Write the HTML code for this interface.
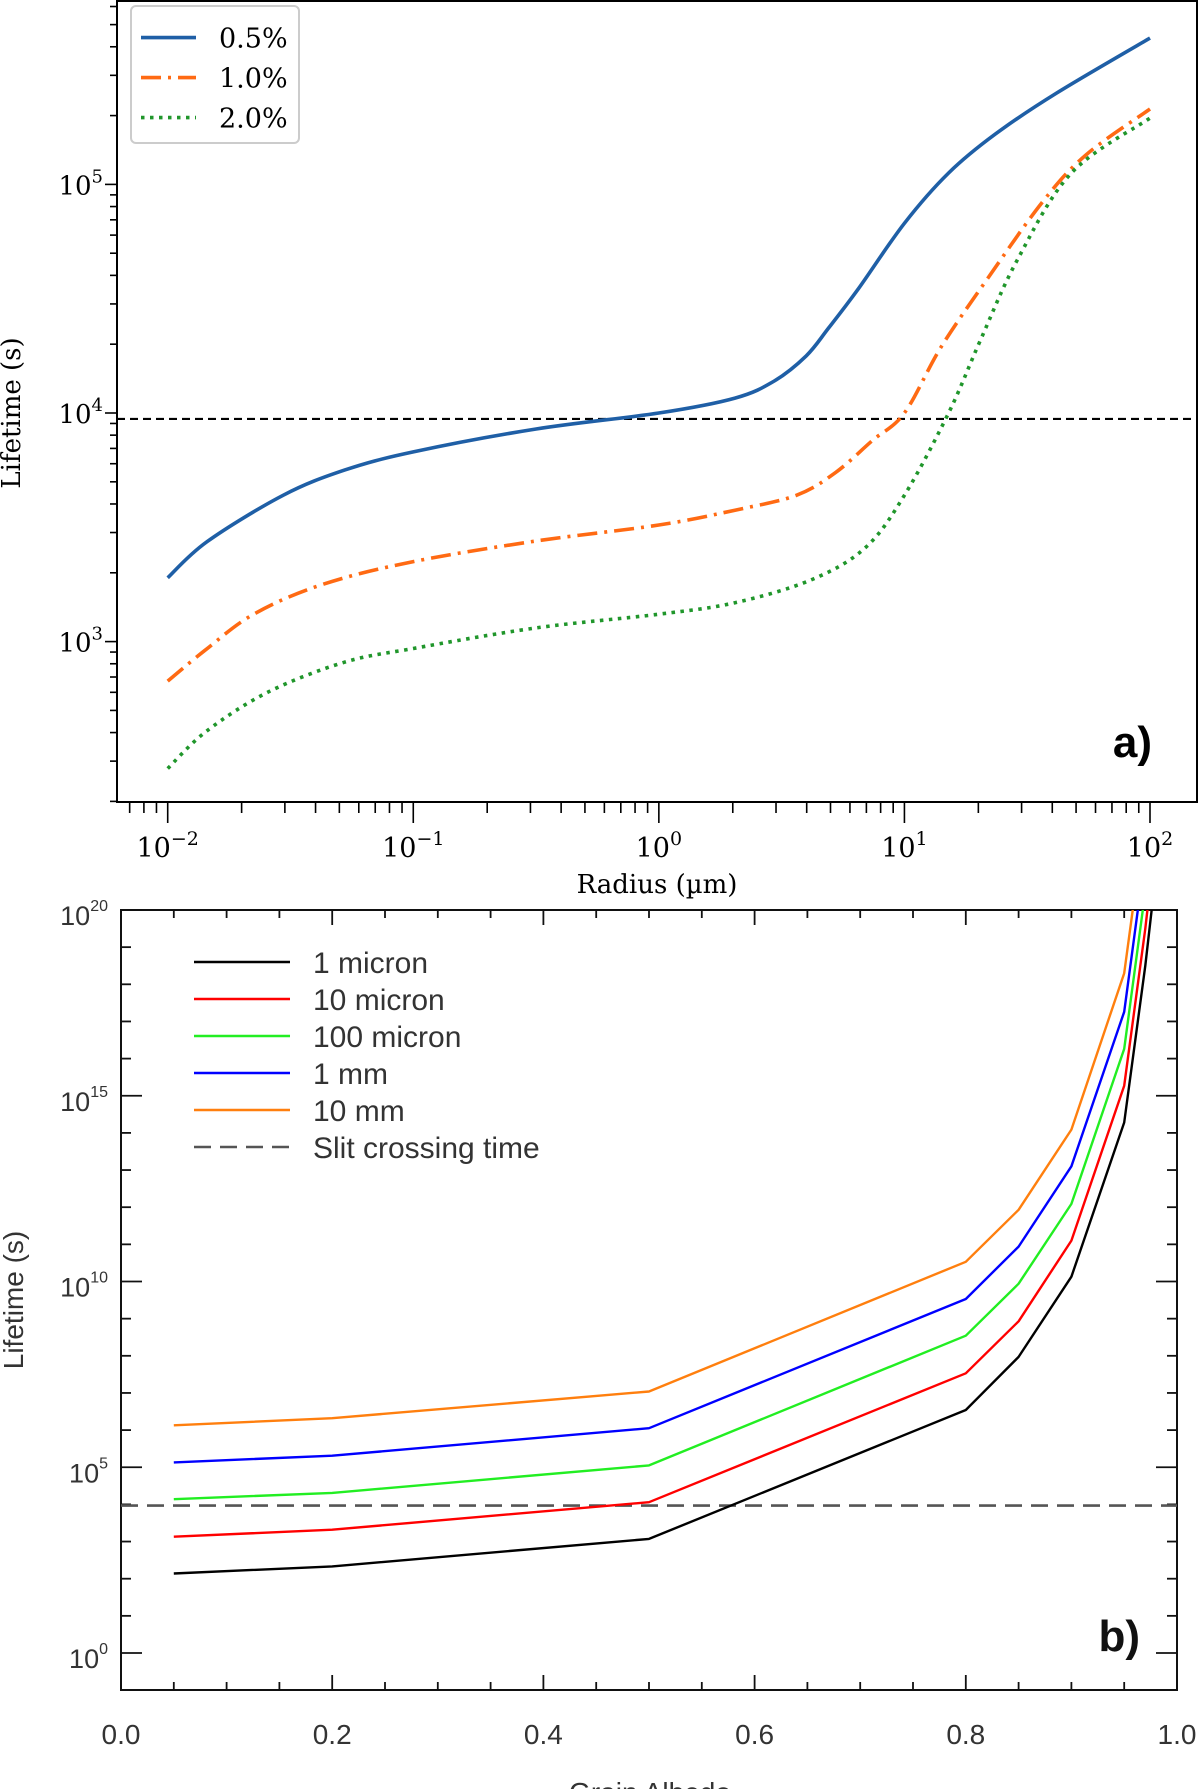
<!DOCTYPE html>
<html><head><meta charset="utf-8">
<style>
html,body{margin:0;padding:0;background:#fff;}
svg{display:block;}
</style></head>
<body>
<svg id="fig" width="1200" height="1789" viewBox="0 0 1200 1789" xmlns="http://www.w3.org/2000/svg">
  <defs>
    <clipPath id="clipA"><rect x="117" y="1" width="1080" height="801"/></clipPath>
    <clipPath id="clipB"><rect x="121" y="910" width="1056" height="780"/></clipPath>
  </defs>
  <g id="panelA"></g>
  <g id="panelB"></g>
</svg>
<script>
// ---------- Panel a data (log10 radius, log10 lifetime) ----------
const aBlueX = [-2, -1.84, -1.53, -1.28, -1.0, -0.5, 0, 0.31, 0.47, 0.6, 0.69, 0.81, 1.0, 1.18, 1.37, 1.62, 2];
const aBlueY = [3.279, 3.437, 3.64, 3.75, 3.83, 3.93, 4.0, 4.065, 4.14, 4.25, 4.37, 4.54, 4.83, 5.05, 5.22, 5.40, 5.64];
const aOrangeX = [-2, -1.85, -1.65, -1.37, -1.0, -0.5, 0, 0.31, 0.56, 0.72, 0.87, 1.0, 1.15, 1.34, 1.56, 1.74, 2];
const aOrangeY = [2.827, 2.96, 3.12, 3.25, 3.35, 3.44, 3.51, 3.575, 3.64, 3.74, 3.88, 4.0, 4.29, 4.59, 4.92, 5.13, 5.33];
const aGreenX = [-2, -1.84, -1.59, -1.28, -1.0, -0.5, 0, 0.31, 0.62, 0.84, 1.0, 1.18, 1.31, 1.46, 1.68, 2];
const aGreenY = [2.445, 2.61, 2.78, 2.91, 2.97, 3.06, 3.12, 3.17, 3.27, 3.41, 3.64, 4.0, 4.32, 4.67, 5.05, 5.29];
const aThreshold = 3.974;
const aXTickExps = [-2, -1, 0, 1, 2];
const aYTickExps = [3, 4, 5];
const aLegendLabels = ["0.5%", "1.0%", "2.0%"];

// ---------- Panel b data (albedo, log10 lifetime) ----------
const bAlbedo = [0.05, 0.2, 0.5, 0.8, 0.85, 0.9, 0.95, 0.97, 0.98];
const b1micron = [2.14, 2.33, 3.07, 6.54, 7.97, 10.13, 14.28, 18.5, 21.0];
const b10micron = [3.13, 3.32, 4.06, 7.53, 8.93, 11.1, 15.27, 19.5, 22.0];
const b100micron = [4.14, 4.31, 5.05, 8.54, 9.94, 12.09, 16.26, 20.5, 23.0];
const b1mm = [5.13, 5.31, 6.05, 9.53, 10.94, 13.1, 17.26, 21.5, 24.0];
const b10mm = [6.13, 6.32, 7.04, 10.53, 11.93, 14.09, 18.3, 22.5, 25.0];
const bSlit = 3.97;
const bXTicks = [0.0, 0.2, 0.4, 0.6, 0.8, 1.0];
const bXTickLabels = ["0.0", "0.2", "0.4", "0.6", "0.8", "1.0"];
const bYTickExps = [0, 5, 10, 15, 20];
const bLegendLabels = ["1 micron", "10 micron", "100 micron", "1 mm", "10 mm", "Slit crossing time"];

const NS = "http://www.w3.org/2000/svg";
function mk(tag, attrs, parent) {
  const e = document.createElementNS(NS, tag);
  for (const k in attrs) e.setAttribute(k, attrs[k]);
  if (parent) parent.appendChild(e);
  return e;
}
function pathD(xs, ys, fx, fy) {
  return xs.map((x, i) => (i ? 'L' : 'M') + fx(x).toFixed(1) + ',' + fy(ys[i]).toFixed(1)).join(' ');
}
function smoothD(xs, ys, fx, fy) {
  const P = xs.map((x, i) => [fx(x), fy(ys[i])]);
  let d = 'M' + P[0][0].toFixed(1) + ',' + P[0][1].toFixed(1);
  for (let i = 0; i < P.length - 1; i++) {
    const p0 = P[Math.max(0, i - 1)], p1 = P[i], p2 = P[i + 1], p3 = P[Math.min(P.length - 1, i + 2)];
    const c1 = [p1[0] + (p2[0] - p0[0]) / 6, p1[1] + (p2[1] - p0[1]) / 6];
    const c2 = [p2[0] - (p3[0] - p1[0]) / 6, p2[1] - (p3[1] - p1[1]) / 6];
    d += ' C' + c1[0].toFixed(1) + ',' + c1[1].toFixed(1) + ' ' + c2[0].toFixed(1) + ',' + c2[1].toFixed(1) + ' ' + p2[0].toFixed(1) + ',' + p2[1].toFixed(1);
  }
  return d;
}

// ===== Panel a =====
const A = document.getElementById('panelA');
const aL = 117, aR = 1197, aT = 1, aB = 802;
const ax = v => 167.7 + (v + 2) * (1150 - 167.7) / 4;
const ay = v => 413 - (v - 4) * 228.6;
const serif = '"DejaVu Serif","Liberation Serif",serif';

let fa = mk('rect', {x: aL, y: aT, width: aR - aL, height: aB - aT, fill: 'none', stroke: '#000', 'stroke-width': 2}, A);



for (let d = -3; d <= 2; d++) {
  for (let m = 1; m <= 9; m++) {
    const v = d + Math.log10(m);
    const px = ax(v);
    if (px < aL || px > aR) continue;
    const len = m === 1 ? 21 : 11;
    const t = mk('line', {x1: px, y1: aB, x2: px, y2: aB + len, stroke: '#000', 'stroke-width': 1.6}, A);
    
    
  }
}
aXTickExps.forEach(e => {
  const t = mk('text', {x: ax(e), y: 857, 'font-family': serif, 'font-size': 27, 'text-anchor': 'middle', fill: '#000'}, A);
  
  
  t.innerHTML = '10<tspan dy="-12" font-size="19">' + (e < 0 ? '\u2212' + (-e) : e) + '</tspan>';
});
for (let d = 2; d <= 5; d++) {
  for (let m = 1; m <= 9; m++) {
    const v = d + Math.log10(m);
    const py = ay(v);
    if (py < aT || py > aB) continue;
    const len = m === 1 ? 12 : 7;
    const t = mk('line', {x1: aL - len, y1: py, x2: aL, y2: py, stroke: '#000', 'stroke-width': 1.6}, A);
    
    
  }
}
aYTickExps.forEach(e => {
  const t = mk('text', {x: 103, y: ay(e) + 10, 'font-family': serif, 'font-size': 26, 'text-anchor': 'end', fill: '#000'}, A);
  
  
  t.innerHTML = '10<tspan dy="-12" font-size="18">' + e + '</tspan>';
});
let xta = mk('text', {x: 657, y: 893, 'font-family': serif, 'font-size': 26, 'text-anchor': 'middle', fill: '#000'}, A);


xta.textContent = 'Radius (\u00b5m)';
let yta = mk('text', {x: 0, y: 0, transform: 'translate(20,413) rotate(-90)', 'font-family': serif, 'font-size': 26, 'text-anchor': 'middle', fill: '#000'}, A);


yta.textContent = 'Lifetime (s)';

let tha = mk('line', {x1: aL, y1: ay(aThreshold), x2: aR, y2: ay(aThreshold), stroke: '#000', 'stroke-width': 2.2, 'stroke-dasharray': '8,5'}, A);



const aSeries = [
  {xs: aBlueX, ys: aBlueY, c: '#1f5fa6', dash: '', name: 'series-0-5-percent'},
  {xs: aOrangeX, ys: aOrangeY, c: '#ff6a13', dash: '20,7,3,7', name: 'series-1-0-percent'},
  {xs: aGreenX, ys: aGreenY, c: '#20962b', dash: '3.5,5.5', name: 'series-2-0-percent'}
];
const gA = mk('g', {'clip-path': 'url(#clipA)'}, A);
aSeries.forEach(s => {
  const p = mk('path', {d: smoothD(s.xs, s.ys, ax, ay), fill: 'none', stroke: s.c, 'stroke-width': 3.6, 'stroke-dasharray': s.dash, 'stroke-linejoin': 'round'}, gA);
  
  
});
let lga = mk('rect', {x: 131, y: 6, width: 168, height: 137, rx: 5, fill: '#fff', stroke: '#ccc', 'stroke-width': 2}, A);


aSeries.forEach((s, i) => {
  const y = 37.6 + i * 40;
  const l = mk('line', {x1: 141, y1: y, x2: 196, y2: y, stroke: s.c, 'stroke-width': 3.6, 'stroke-dasharray': s.dash}, A);
  
  
  const t = mk('text', {x: 219, y: y + 10, 'font-family': serif, 'font-size': 27, fill: '#000'}, A);
  
  
  t.textContent = aLegendLabels[i];
});
let pla = mk('text', {x: 1152, y: 757, 'font-family': '"Liberation Sans",sans-serif', 'font-size': 44, 'font-weight': 'bold', 'text-anchor': 'end', fill: '#000'}, A);


pla.textContent = 'a)';

// ===== Panel b =====
const B = document.getElementById('panelB');
const bL = 121, bR = 1177, bT = 910, bBt = 1690;
const bx = v => bL + v * (bR - bL);
const by = v => 1653 - v * (1653 - 910) / 20;
const sans = '"Liberation Sans","DejaVu Sans",sans-serif';

let fb = mk('rect', {x: bL, y: bT, width: bR - bL, height: bBt - bT, fill: 'none', stroke: '#111', 'stroke-width': 2}, B);


for (let i = 0; i <= 20; i++) {
  const v = i * 0.05;
  const px = bx(v);
  const len = i % 4 === 0 ? 15 : 8;
  [[bBt, -1], [bT, 1]].forEach(([y0, dir]) => {
    const t = mk('line', {x1: px, y1: y0, x2: px, y2: y0 + dir * len, stroke: '#111', 'stroke-width': 1.8}, B);
    
    
  });
}
bXTicks.forEach((v, i) => {
  const t = mk('text', {x: bx(v), y: 1744, 'font-family': sans, 'font-size': 28, 'text-anchor': 'middle', fill: '#333'}, B);
  
  
  t.textContent = bXTickLabels[i];
});
for (let d = 0; d <= 20; d++) {
  const py = by(d);
  const len = d % 5 === 0 ? 21 : 10;
  [[bL, 1], [bR, -1]].forEach(([x0, dir]) => {
    const t = mk('line', {x1: x0, y1: py, x2: x0 + dir * len, y2: py, stroke: '#111', 'stroke-width': 1.8}, B);
    
    
  });
}
bYTickExps.forEach(e => {
  const t = mk('text', {x: 108, y: by(e) + 15, 'font-family': sans, 'font-size': 27, 'text-anchor': 'end', fill: '#333'}, B);
  
  
  t.innerHTML = '10<tspan dy="-14" font-size="16">' + e + '</tspan>';
});
let xtb = mk('text', {x: 650, y: 1802, 'font-family': sans, 'font-size': 28, 'text-anchor': 'middle', fill: '#333'}, B);


xtb.textContent = 'Grain Albedo';
let ytb = mk('text', {x: 0, y: 0, transform: 'translate(23,1300) rotate(-90)', 'font-family': sans, 'font-size': 28, 'text-anchor': 'middle', fill: '#333'}, B);


ytb.textContent = 'Lifetime (s)';

let slit = mk('line', {x1: bL, y1: by(bSlit), x2: bR, y2: by(bSlit), stroke: '#555', 'stroke-width': 2.6, 'stroke-dasharray': '17,9'}, B);



const bSeries = [
  {ys: b1micron, c: '#000000', name: 'series-1-micron'},
  {ys: b10micron, c: '#ff0000', name: 'series-10-micron'},
  {ys: b100micron, c: '#22ee22', name: 'series-100-micron'},
  {ys: b1mm, c: '#0000ff', name: 'series-1-mm'},
  {ys: b10mm, c: '#ff7f0e', name: 'series-10-mm'}
];
const gB = mk('g', {'clip-path': 'url(#clipB)'}, B);
bSeries.forEach(s => {
  const p = mk('path', {d: pathD(bAlbedo, s.ys, bx, by), fill: 'none', stroke: s.c, 'stroke-width': 2.4, 'stroke-linejoin': 'round'}, gB);
  
  
});
bLegendLabels.forEach((lab, i) => {
  const y = 962 + i * 37;
  const isSlit = i === 5;
  const l = mk('line', {x1: 194, y1: y, x2: 290, y2: y, stroke: isSlit ? '#555' : bSeries[i].c, 'stroke-width': isSlit ? 2.6 : 2.4, 'stroke-dasharray': isSlit ? '17,9' : ''}, B);
  
  
  const t = mk('text', {x: 313, y: y + 11, 'font-family': sans, 'font-size': 30, fill: '#333'}, B);
  
  
  t.textContent = lab;
});
let plb = mk('text', {x: 1140, y: 1651, 'font-family': sans, 'font-size': 44, 'font-weight': 'bold', 'text-anchor': 'end', fill: '#111'}, B);


plb.textContent = 'b)';
</script>
</body></html>
